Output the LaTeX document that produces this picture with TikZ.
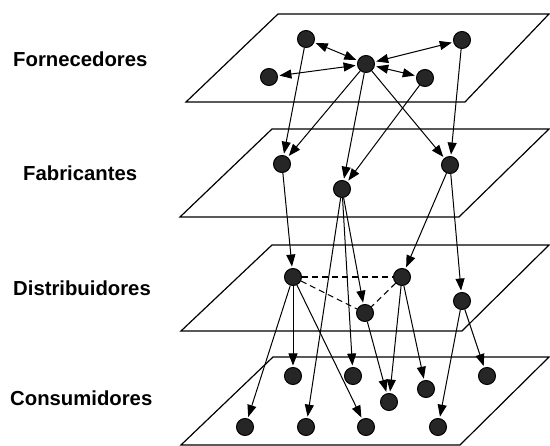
\documentclass[tikz,border=0pt]{standalone}
\usepackage{fontspec}
\setmainfont{Liberation Sans}
\usetikzlibrary{arrows.meta}
\begin{document}
\begin{tikzpicture}[x=1pt,y=-1pt,
  dot/.style={circle,draw=black,fill=black!85,line width=1pt,minimum size=17pt,inner sep=0pt},
  plane/.style={draw=black,line width=1.2pt,line join=miter},
  conn/.style={draw=black,line width=1pt,-{Triangle[length=12pt,width=9pt]},shorten >=1.5pt},
  bconn/.style={draw=black,line width=1pt,{Triangle[length=12pt,width=9pt]}-{Triangle[length=12pt,width=9pt]},shorten >=1.5pt,shorten <=1.5pt},
  dconn/.style={draw=black,line width=1.1pt,dash pattern=on 6pt off 4pt},
  lbl/.style={anchor=base west,inner sep=0pt,font=\fontsize{20.3}{21}\selectfont\bfseries}]
\useasboundingbox (0,0) rectangle (550,446);
% planes
\draw[plane] (186,102) -- (465,102) -- (549,14) -- (278,14) -- cycle;
\draw[plane] (180,217) -- (459,217) -- (549,129) -- (272,129) -- cycle;
\draw[plane] (181,331) -- (462,331) -- (549,245) -- (272,245) -- cycle;
\draw[plane] (181,445) -- (460,445) -- (549,357) -- (273,357) -- cycle;
% labels
\node[lbl] (l1) at (13,67) {Fornecedores};
\node[lbl] (l2) at (23,181) {Fabricantes};
\node[lbl] (l3) at (13,296) {Distribuidores};
\node[lbl] (l4) at (10,406) {Consumidores};
% nodes plane 1
\node[dot] (A1) at (306,39) {};
\node[dot] (A2) at (462,40) {};
\node[dot] (A3) at (366,64) {};
\node[dot] (A4) at (269,77) {};
\node[dot] (A5) at (425,78) {};
% plane 2
\node[dot] (B1) at (282,164) {};
\node[dot] (B2) at (342,189) {};
\node[dot] (B3) at (450,165) {};
% plane 3
\node[dot] (C1) at (293,277) {};
\node[dot] (C2) at (402,277) {};
\node[dot] (C3) at (365,313) {};
\node[dot] (C4) at (462,301) {};
% plane 4
\node[dot] (D1) at (293,376) {};
\node[dot] (D2) at (353,376) {};
\node[dot] (D3) at (426,389) {};
\node[dot] (D4) at (487,376) {};
\node[dot] (D5) at (389,402) {};
\node[dot] (D6) at (245,427) {};
\node[dot] (D7) at (306,427) {};
\node[dot] (D8) at (366,427) {};
\node[dot] (D9) at (438,427) {};
% plane 1 links
\draw[bconn] (A1) -- (A3);
\draw[bconn] (A2) -- (A3);
\draw[bconn] (A4) -- (A3);
\draw[bconn] (A5) -- (A3);
% plane 1 -> 2
\draw[conn] (A1) -- (B1);
\draw[conn] (A3) -- (B1);
\draw[conn] (A3) -- (B2);
\draw[conn] (A5) -- (B2);
\draw[conn] (A3) -- (B3);
\draw[conn] (A2) -- (B3);
% plane 2 -> 3
\draw[conn] (B1) -- (C1);
\draw[conn] (B3) -- (C2);
\draw[conn] (B3) -- (C4);
\draw[conn] (B2) -- (C3);
% dashed
\draw[dconn] (C1) -- (C2);
\draw[dconn] (C1) -- (C3);
\draw[dconn] (C2) -- (C3);
% into plane 4
\draw[conn] (C1) -- (D1);
\draw[conn] (C1) -- (D6);
\draw[conn] (C1) -- (D8);
\draw[conn] (B2) -- (D7);
\draw[conn] (B2) -- (D2);
\draw[conn] (C3) -- (D5);
\draw[conn] (C2) -- (D5);
\draw[conn] (C2) -- (D3);
\draw[conn] (C4) -- (D4);
\draw[conn] (C4) -- (D9);
\end{tikzpicture}
\end{document}
